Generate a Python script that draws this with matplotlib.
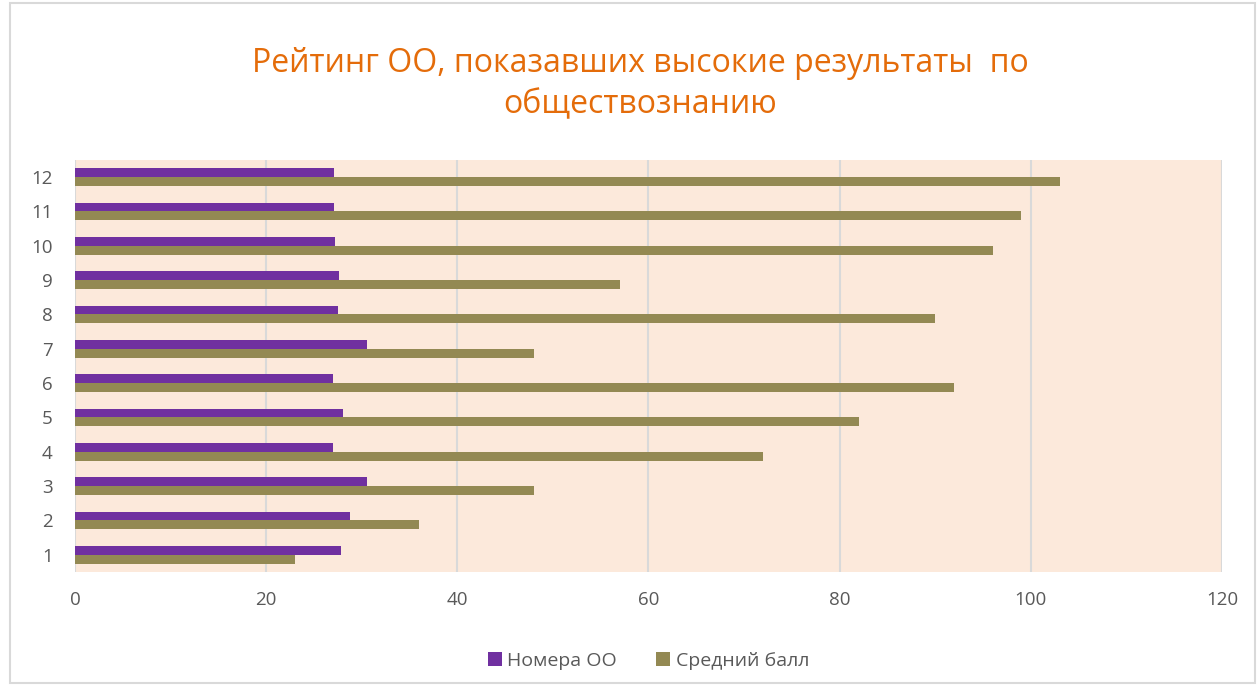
import numpy as np
import matplotlib.pyplot as plt
from matplotlib.patches import Rectangle

# данные
categories = [1, 2, 3, 4, 5, 6, 7, 8, 9, 10, 11, 12]
nomera_oo = [27.8, 28.8, 30.5, 27.0, 28.0, 27.0, 30.5, 27.5, 27.6, 27.2, 27.1, 27.1]
sredniy_ball = [23, 36, 48, 72, 82, 92, 48, 90, 57, 96, 99, 103]
x_ticks = [0, 20, 40, 60, 80, 100, 120]

plt.rcParams['font.family'] = ['Open Sans', 'DejaVu Sans']

fig = plt.figure(figsize=(12.58, 6.86), dpi=100)
fig.patches.append(Rectangle((0.008, 0.005), 0.99, 0.99, transform=fig.transFigure,
                             fill=False, edgecolor='#d9d9d9', linewidth=1.5))

ax = fig.add_axes([0.0596, 0.1662, 0.9118, 0.6006])
ax.set_facecolor('#fce9db')

y = np.arange(len(categories)) + 1
h = 0.26
ax.barh(y + h / 2, nomera_oo, height=h, color='#7030a0', label='Номера ОО', zorder=3)
ax.barh(y - h / 2, sredniy_ball, height=h, color='#938953', label='Средний балл', zorder=3)

ax.set_xlim(0, 120)
ax.set_ylim(0.5, 12.5)
ax.set_xticks(x_ticks)
ax.set_yticks(y)
ax.set_yticklabels([str(c) for c in categories])
ax.tick_params(axis='both', length=0, labelsize=13.5, colors='#595959')
ax.tick_params(axis='x', pad=14)
ax.tick_params(axis='y', pad=16)
ax.grid(axis='x', color='#d9d9d9', linewidth=1.5, zorder=0)
for s in ax.spines.values():
    s.set_visible(False)

fig.text(0.509, 0.907, 'Рейтинг ОО, показавших высокие результаты  по', ha='center', va='center',
         fontsize=23, color='#e46c0a')
fig.text(0.509, 0.848, 'обществознанию', ha='center', va='center',
         fontsize=23, color='#e46c0a')

ax.legend(loc='center', bbox_to_anchor=(0.5, -0.215), ncol=2, frameon=False, fontsize=14,
          handlelength=0.7, handleheight=0.7, handletextpad=0.3, columnspacing=2.0,
          labelcolor='#595959')

plt.savefig('out.png', dpi=100)
